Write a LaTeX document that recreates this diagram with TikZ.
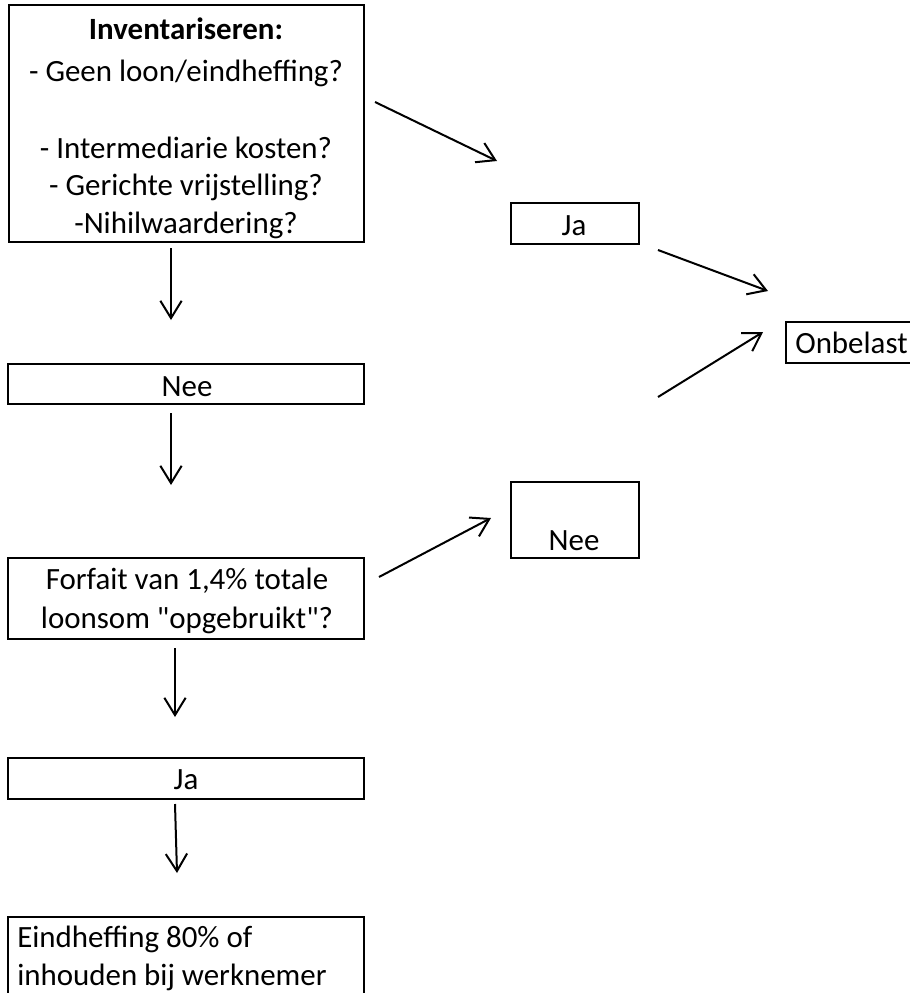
\documentclass[tikz,border=0pt]{standalone}
\usepackage{fontspec}
\newfontfamily\carl{Carlito}
\usetikzlibrary{arrows.meta,fit}
\begin{document}
\begin{tikzpicture}[x=0.75pt,y=-0.75pt,
  box/.style={draw,line width=2.1pt,inner sep=0pt},
  txt/.style={anchor=base,inner sep=0pt,font=\carl\fontsize{23.2}{28}\selectfont},
  conn/.style={line width=1.5pt,-{Straight Barb[length=13pt,width=16pt,line width=1.5pt]}}]
\useasboundingbox (0,0) rectangle (910,993);
\clip (0,0) rectangle (910,993);
% boxes
\node[box,fit={(9,5)(364,242)}] (inv) {};
\node[box,fit={(8,364)(364,404)}] (nee1) {};
\node[box,fit={(8,558)(364,639)}] (forf) {};
\node[box,fit={(8,758)(364,799)}] (ja2) {};
\node[box,fit={(8,917)(364,1010)}] (eind) {};
\node[box,fit={(511,203)(639,244)}] (ja1) {};
\node[box,fit={(511,482)(639,558)}] (nee2) {};
\node[box,fit={(786,322)(930,363)}] (onb) {};
% texts
\node[txt] (l1) at (186,39) {\bfseries Inventariseren:};
\node[txt] (l2) at (186,81) {- Geen loon/eindheffing?};
\node[txt] (l3) at (186,158) {- Intermediarie kosten?};
\node[txt] (l4) at (186,195) {- Gerichte vrijstelling?};
\node[txt] (l5) at (186,233) {-Nihilwaardering?};
\node[txt] (tnee1) at (187,396) {Nee};
\node[txt] (tf1) at (187,589) {Forfait van 1,4\% totale};
\node[txt] (tf2) at (187,628) {loonsom "opgebruikt"?};
\node[txt] (tja2) at (186,789) {Ja};
\node[txt,anchor=base west] (te1) at (17,947) {Eindheffing 80\% of};
\node[txt,anchor=base west] (te2) at (17,985) {inhouden bij werknemer};
\node[txt] (tja1) at (574,235) {Ja};
\node[txt] (tnee2) at (574,550) {Nee};
\node[txt,anchor=base west] (tonb) at (795,353) {Onbelast};
% connector end points
\coordinate (a1s) at (171,248); \coordinate (a1e) at (171,320);
\coordinate (a2s) at (171,413); \coordinate (a2e) at (171,485);
\coordinate (a3s) at (175,648); \coordinate (a3e) at (175,717);
\coordinate (a4s) at (175,804); \coordinate (a4e) at (177,873);
\coordinate (a5s) at (375,102); \coordinate (a5e) at (497,161);
\coordinate (a6s) at (658,250); \coordinate (a6e) at (768,291);
\coordinate (a7s) at (658,397); \coordinate (a7e) at (763,332);
\coordinate (a8s) at (379,577); \coordinate (a8e) at (491,518);
\draw[conn] (a1s) -- (a1e);
\draw[conn] (a2s) -- (a2e);
\draw[conn] (a3s) -- (a3e);
\draw[conn] (a4s) -- (a4e);
\draw[conn] (a5s) -- (a5e);
\draw[conn] (a6s) -- (a6e);
\draw[conn] (a7s) -- (a7e);
\draw[conn] (a8s) -- (a8e);
\end{tikzpicture}
\end{document}
